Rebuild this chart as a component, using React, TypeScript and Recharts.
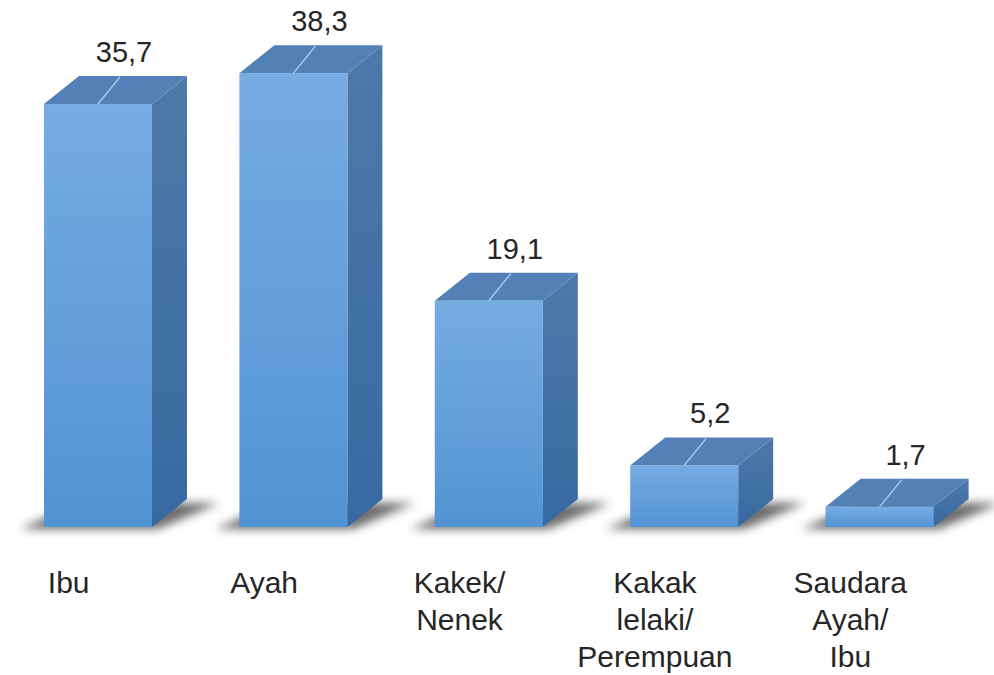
import React from 'react';
import { BarChart, Bar, XAxis, YAxis, LabelList } from 'recharts';

// category labels, lines split by "\n"
const categories = ['Ibu', 'Ayah', 'Kakek/\nNenek', 'Kakak\nlelaki/\nPerempuan', 'Saudara\nAyah/\nIbu'];
const percentages = [35.7, 38.3, 19.1, 5.2, 1.7];

const data = categories.map((name, i) => ({ name, value: percentages[i] }));

// depth of the fake 3D block
const DX = 35;
const DY = 28;

const Block3D = (props: any) => {
    const { x, y, width, height, index } = props;
    const base = y + height;
    const id = `b${index}`;
    return (
        <g>
            <defs>
                <linearGradient id={`${id}-front`} x1="0" y1="0" x2="0" y2="1">
                    <stop offset="0%" stopColor="#76ace2" />
                    <stop offset="100%" stopColor="#5293d4" />
                </linearGradient>
                <linearGradient id={`${id}-side`} x1="0" y1="0" x2="0" y2="1">
                    <stop offset="0%" stopColor="#4e79a9" />
                    <stop offset="100%" stopColor="#3769a1" />
                </linearGradient>
                <filter id={`${id}-blur`} x="-20%" y="-100%" width="140%" height="300%">
                    <feGaussianBlur stdDeviation="5" />
                </filter>
            </defs>
            {/* shadow on the floor */}
            <polygon
                points={`${x - 24},${base + 2} ${x + width + 6},${base + 2} ${x + width + DX + 32},${base - DY + 4} ${x + DX},${base - DY + 4}`}
                fill="#3a3a3a"
                opacity={0.75}
                filter={`url(#${id}-blur)`}
            />
            {/* side */}
            <polygon
                points={`${x + width},${y} ${x + width + DX},${y - DY} ${x + width + DX},${base - DY} ${x + width},${base}`}
                fill={`url(#${id}-side)`}
            />
            {/* top */}
            <polygon
                points={`${x},${y} ${x + DX},${y - DY} ${x + width + DX},${y - DY} ${x + width},${y}`}
                fill="#5381b7"
            />
            {/* front */}
            <rect x={x} y={y} width={width} height={height} fill={`url(#${id}-front)`} />
        </g>
    );
};

const ValueLabel = (props: any) => {
    const { x, y, width, value } = props;
    const cx = x + width / 2;
    return (
        <g>
            <line x1={cx} y1={y} x2={cx + 22} y2={y - 27} stroke="#a9c9ea" strokeWidth={1.5} />
            <text
                x={cx + 26}
                y={y - 42}
                textAnchor="middle"
                fontFamily="'Liberation Sans', Arial, sans-serif"
                fontSize={29}
                fill="#262626"
            >
                {String(value).replace('.', ',')}
            </text>
        </g>
    );
};

const CategoryTick = (props: any) => {
    const { x, y, payload } = props;
    const lines = String(payload.value).split('\n');
    return (
        <text
            x={x - 29}
            y={y}
            textAnchor="middle"
            fontFamily="'Liberation Sans', Arial, sans-serif"
            fontSize={30}
            fill="#262626"
        >
            {lines.map((line, i) => (
                <tspan key={i} x={x - 29} dy={i === 0 ? 66 : 37}>
                    {line}
                </tspan>
            ))}
        </text>
    );
};

const App: React.FC = () => {
    return (
        <div style={{ position: 'absolute', left: 0, top: 0, background: '#fff' }}>
            <BarChart
                width={994}
                height={675}
                data={data}
                margin={{ top: 53, right: 17, left: 0, bottom: 0 }}
            >
                <XAxis
                    dataKey="name"
                    axisLine={false}
                    tickLine={false}
                    tickSize={0}
                    tickMargin={0}
                    height={148}
                    interval={0}
                    tick={<CategoryTick />}
                />
                <YAxis hide domain={[0, 40]} />
                <Bar dataKey="value" barSize={108} shape={<Block3D />} isAnimationActive={false}>
                    <LabelList dataKey="value" content={<ValueLabel />} />
                </Bar>
            </BarChart>
        </div>
    );
};

export default App;
